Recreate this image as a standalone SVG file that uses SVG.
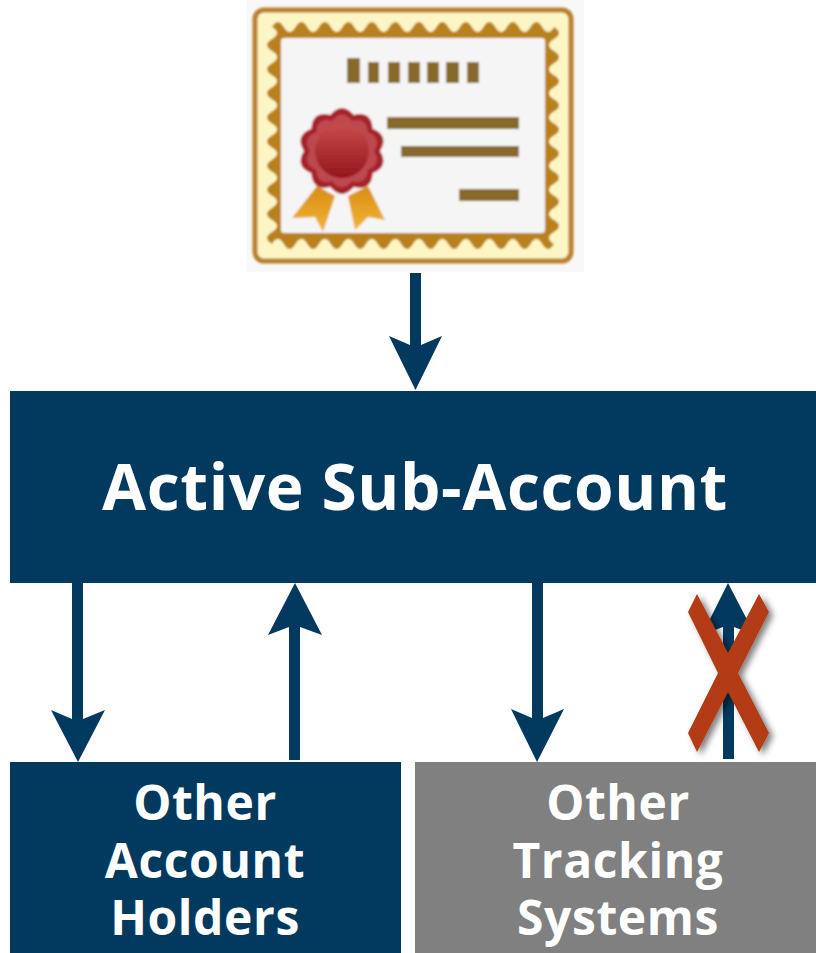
<svg xmlns="http://www.w3.org/2000/svg" width="816" height="953" viewBox="0 0 816 953">
<defs>
<style>
.box{fill:#02395f}
.gray{fill:#808080}
.conn{fill:#02395f}
text{font-family:"Open Sans","Noto Sans","DejaVu Sans",sans-serif;font-weight:700;fill:#fff;text-anchor:middle}
.big{font-size:64px;letter-spacing:0.6px}
.mid{font-size:48px;letter-spacing:0.6px}
.bar{fill:#87692c}
</style>
<linearGradient id="seal" x1="0" y1="0" x2="0" y2="1"><stop offset="0" stop-color="#c94a4a"/><stop offset="1" stop-color="#94161c"/></linearGradient>
<linearGradient id="rib" x1="0" y1="0" x2="0" y2="1"><stop offset="0" stop-color="#d98c10"/><stop offset="1" stop-color="#f2b53a"/></linearGradient>
<path id="sealshape" d="M330.300 114.900Q342 101 353.700 114.900Q371.400 110.600 372.700 128.700Q389.600 135.600 380 151Q389.600 166.400 372.700 173.300Q371.400 191.400 353.700 187.100Q342 201 330.300 187.100Q312.600 191.400 311.300 173.300Q294.400 166.400 304 151Q294.400 135.600 311.300 128.700Q312.600 110.600 330.300 114.900Z"/>
<filter id="sh" x="-30%" y="-20%" width="160%" height="140%"><feDropShadow dx="4" dy="3" stdDeviation="3" flood-color="#000" flood-opacity="0.5"/></filter>
<filter id="soft" x="-5%" y="-5%" width="110%" height="110%"><feGaussianBlur stdDeviation="0.9"/></filter>
</defs>
<rect width="816" height="953" fill="#fff"/>
<g id="certificate">
<rect x="247" y="0" width="337" height="272" fill="#f8f8f8"/>
<g filter="url(#soft)">
<rect x="255" y="10" width="316" height="251" rx="9" fill="#fdf6c4" stroke="#b9802e" stroke-width="5"/>
<path fill="#b9801f" d="M272 27q5.875 -10 11.750 0t11.750 0t11.750 0t11.750 0t11.750 0t11.750 0t11.750 0t11.750 0t11.750 0t11.750 0t11.750 0t11.750 0t11.750 0t11.750 0t11.750 0t11.750 0t11.750 0t11.750 0t11.750 0t11.750 0t11.750 0t11.750 0t11.750 0t11.750 0q10 6 0 12.060t0 12.060t0 12.060t0 12.060t0 12.060t0 12.060t0 12.060t0 12.060t0 12.060t0 12.060t0 12.060t0 12.060t0 12.060t0 12.060t0 12.060t0 12.060t0 12.060t0 12.060q-5.875 10 -11.750 0t-11.750 0t-11.750 0t-11.750 0t-11.750 0t-11.750 0t-11.750 0t-11.750 0t-11.750 0t-11.750 0t-11.750 0t-11.750 0t-11.750 0t-11.750 0t-11.750 0t-11.750 0t-11.750 0t-11.750 0t-11.750 0t-11.750 0t-11.750 0t-11.750 0t-11.750 0t-11.750 0q-10 -6 0 -12.060t0 -12.060t0 -12.060t0 -12.060t0 -12.060t0 -12.060t0 -12.060t0 -12.060t0 -12.060t0 -12.060t0 -12.060t0 -12.060t0 -12.060t0 -12.060t0 -12.060t0 -12.060t0 -12.060t0 -12.060z"/>
<rect x="281" y="38" width="264" height="195" rx="3" fill="#f5f5f6"/>
<path class="bar" d="M347 58h13v25h-13zM368 62h11v21h-11zM388 62h12v21h-12zM408 62h12v21h-12zM427 62h12v21h-12zM446 62h13v21h-13zM467 62h12v21h-12zM387 117h132v12H387zM401 146h118v11H401zM459 189h60v12h-60z"/>
<path d="M317 186L335 196 323 232 315 217 292 218Z" fill="url(#rib)"/>
<path d="M348 196L368 186 385 220 368 217 355 230Z" fill="url(#rib)"/>
<use href="#sealshape" fill="#a8232a"/>
<use href="#sealshape" fill="#bd4a4f" transform="translate(342 151) scale(.84) translate(-342 -151)"/>
<circle cx="342" cy="151" r="27" fill="url(#seal)"/>
</g>
</g>
<g id="connectors" class="conn">
<path d="M410 273h11v72l21-9-26.500 54-26.500-54 21 9z"/>
<path d="M72 583h11v136l22-9-27 52-27-52 21 9z"/>
<path d="M289 760V627l-21 8 27-52 27 52-22-8v133z"/>
<path d="M532 583h11v135l21-9-27 53-26-53 21 9z"/>
<path d="M723 759V627l-21 8 26-52 27 52-21-8v132z"/>
</g>
<g id="x-mark">
<path d="M697 594L728 653 759 594 769 612 738 673 769 733 759 752 728 692 697 752 688 733 718 673 688 612Z" fill="#b33a12" filter="url(#sh)"/>
</g>
<g id="active-sub-account">
<rect class="box" x="10" y="391" width="806" height="192"/>
<text class="big" x="415" y="510">Active Sub-Account</text>
</g>
<g id="other-account-holders">
<rect class="box" x="10" y="762" width="391" height="191"/>
<text class="mid"><tspan x="205" y="820">Other</tspan><tspan x="205" y="878">Account</tspan><tspan x="205" y="935">Holders</tspan></text>
</g>
<g id="other-tracking-systems">
<rect class="gray" x="415" y="762" width="401" height="191"/>
<text class="mid"><tspan x="618" y="820">Other</tspan><tspan x="618" y="878">Tracking</tspan><tspan x="618" y="935">Systems</tspan></text>
</g>
</svg>
